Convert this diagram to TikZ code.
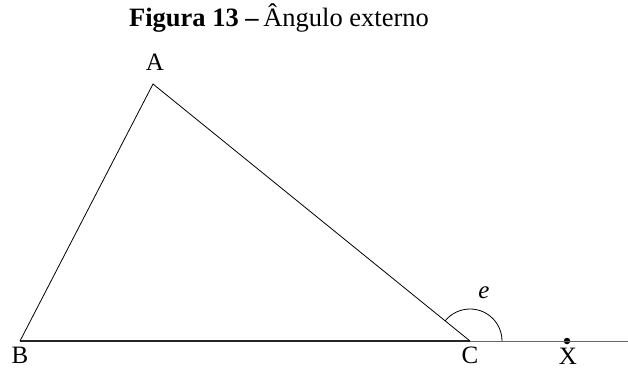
\documentclass[tikz,border=0pt]{standalone}
\usepackage{fontspec}
\setmainfont{Liberation Serif}
\usetikzlibrary{positioning,calc}

\begin{document}
\begin{tikzpicture}[
  x=1pt, y=-1pt,
  vertex/.style={inner sep=0pt, font=\fontsize{25}{29}\selectfont},
  side/.style={draw, line width=0.8pt},
  base/.style={draw, line width=1.4pt, black!85},
  ray/.style={draw, line width=1pt, black!60},
  dot/.style={circle, fill=black, inner sep=0pt, minimum size=6.5pt}
]
  \useasboundingbox (0,0) rectangle (628,369);

  \node[font=\fontsize{26.5}{30}\selectfont] (title) at (279,18) {\textbf{Figura 13 –}\,Ângulo externo};

  \coordinate (A) at (153,84);
  \coordinate (B) at (20,341);
  \coordinate (C) at (470,341);
  \coordinate (end) at (628,341);
  \node[dot] (X) at (567,341) {};

  \draw[ray] (C) -- (end);
  \draw[base] (B) -- (C);
  \draw[side] (B) -- (A) -- (C);
  \draw[side] ($(C)+(32,0)$) arc[start angle=0, end angle=-141, radius=32];

  \node[vertex] (labA) at (155,62) {A};
  \node[vertex] (labB) at (20,355) {B};
  \node[vertex] (labC) at (470,355) {C};
  \node[vertex] (labX) at (568,356) {X};
  \node[vertex] (labe) at (484,293) {\textit{e}};
\end{tikzpicture}
\end{document}
